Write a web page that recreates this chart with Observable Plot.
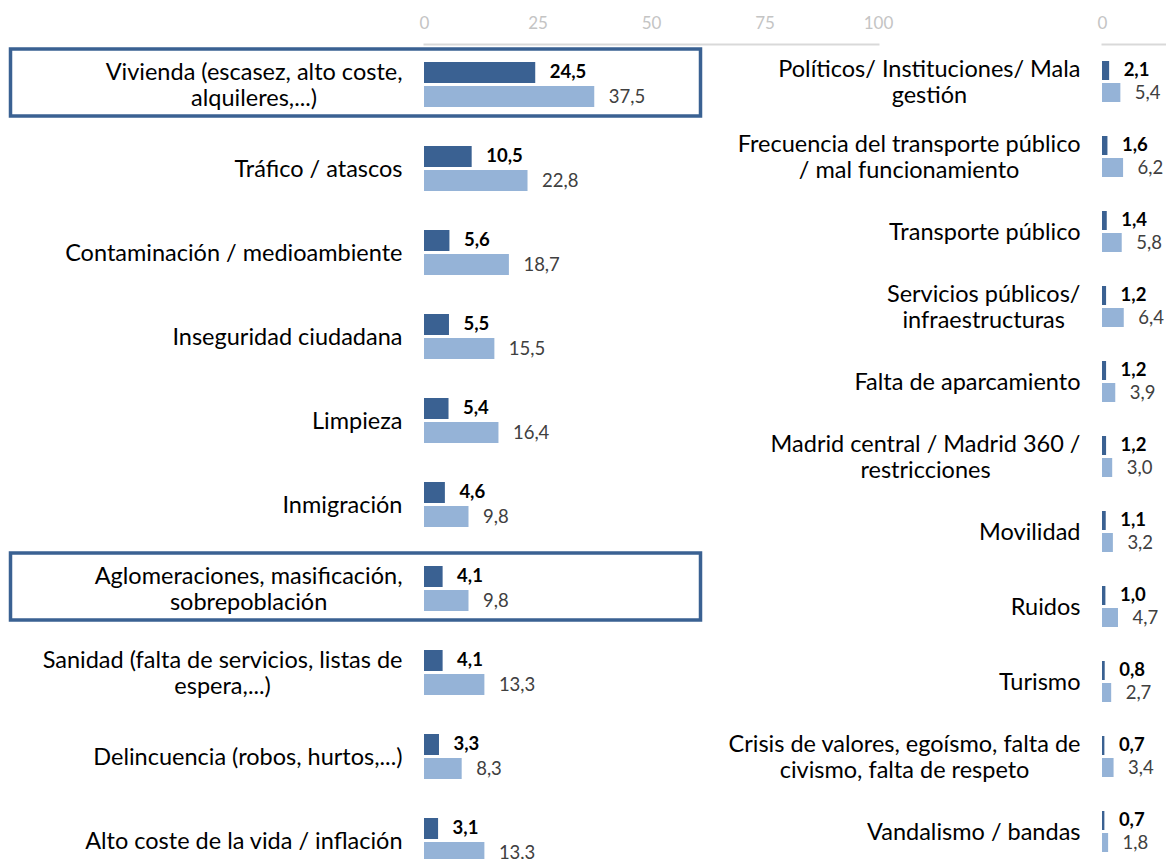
<!DOCTYPE html>
<html>
<head>
<meta charset="utf-8">
<script src="https://cdn.jsdelivr.net/npm/d3@7"></script>
<script src="https://cdn.jsdelivr.net/npm/@observablehq/plot@0.6"></script>
<style>
  body { margin: 0; background: #fff; }
  #wrap { position: relative; width: 1166px; height: 859px; overflow: hidden; background: #fff; font-family: Lato, sans-serif; }
  #left, #right { position: absolute; top: 0; }
  #left { left: 0; }
  #right { left: 700px; }
  svg { max-width: none !important; }
</style>
</head>
<body>
<div id="wrap"><div id="left"></div><div id="right"></div></div>
<script>
// ---------- data ----------
const leftCategories = [
  "Vivienda (escasez, alto coste,\nalquileres,...)",
  "Tráfico / atascos",
  "Contaminación / medioambiente",
  "Inseguridad ciudadana",
  "Limpieza",
  "Inmigración",
  "Aglomeraciones, masificación,\nsobrepoblación",
  "Sanidad (falta de servicios, listas de\nespera,...)",
  "Delincuencia (robos, hurtos,...)",
  "Alto coste de la vida / inflación"
];
const leftSeriesA = [24.5, 10.5, 5.6, 5.5, 5.4, 4.6, 4.1, 4.1, 3.3, 3.1];
const leftSeriesB = [37.5, 22.8, 18.7, 15.5, 16.4, 9.8, 9.8, 13.3, 8.3, 13.3];
const leftHighlighted = [
  "Vivienda (escasez, alto coste,\nalquileres,...)",
  "Aglomeraciones, masificación,\nsobrepoblación"
];
const leftTicks = [0, 25, 50, 75, 100];

const rightCategories = [
  "Políticos/ Instituciones/ Mala\ngestión",
  "Frecuencia del transporte público\n/ mal funcionamiento",
  "Transporte público",
  "Servicios públicos/\ninfraestructuras",
  "Falta de aparcamiento",
  "Madrid central / Madrid 360 /\nrestricciones",
  "Movilidad",
  "Ruidos",
  "Turismo",
  "Crisis de valores, egoísmo, falta de\ncivismo, falta de respeto",
  "Vandalismo / bandas"
];
const rightSeriesA = [2.1, 1.6, 1.4, 1.2, 1.2, 1.2, 1.1, 1.0, 0.8, 0.7, 0.7];
const rightSeriesB = [5.4, 6.2, 5.8, 6.4, 3.9, 3.0, 3.2, 4.7, 2.7, 3.4, 1.8];
const rightTicks = [0];

// ---------- styles ----------
const DARK = "#3a6192";
const LIGHT = "#95b3d7";
const fmt = v => v.toFixed(1).replace(".", ",");

function panel({cats, a, b, ticks, width, marginLeft, marginRight, range, paddingInner, inset, highlight}) {
  const data = cats.map((c, i) => ({cat: c, a: a[i], b: b[i]}));
  const half = inset / 2;
  const marks = [
    Plot.frame({anchor: "top", stroke: "#d9d9d9", strokeWidth: 2}),
    Plot.axisX({anchor: "top", ticks, tickSize: 0, tickPadding: 16, fontSize: 17, color: "#c4c4c4", label: null}),
    Plot.axisY({tickSize: 0, tickPadding: 22, fontSize: 23.5, lineHeight: 1.1, color: "#000", label: null}),
    Plot.barX(data, {y: "cat", x: "a", fill: DARK, insetBottom: inset}),
    Plot.barX(data, {y: "cat", x: "b", fill: LIGHT, insetTop: inset}),
    Plot.text(data, {y: "cat", x: "a", text: d => fmt(d.a), dx: 14, dy: -half - 0.5, textAnchor: "start", fontWeight: "bold", fontSize: 18.5, fill: "#000"}),
    Plot.text(data, {y: "cat", x: "b", text: d => fmt(d.b), dx: 14, dy: half + 0.5, textAnchor: "start", fontSize: 18.5, fill: "#404040"})
  ];
  if (highlight) {
    marks.push(Plot.barX(highlight, {y: d => d, x1: 0, x2: 0, insetLeft: -413.5, insetRight: -276.5, insetTop: -13, insetBottom: -9, fill: "none", stroke: DARK, strokeWidth: 3.5}));
  }
  return Plot.plot({
    width, height: 884,
    marginTop: 44, marginBottom: 0, marginLeft, marginRight,
    style: {background: "transparent", fontFamily: "Lato, sans-serif", fontSize: "20px", overflow: "visible"},
    x: {domain: [0, 100], axis: null},
    y: {domain: cats, range, paddingInner, paddingOuter: paddingInner / 2, axis: null},
    marks
  });
}

function centerMultiline(svg) {
  svg.querySelectorAll('g[aria-label="y-axis tick label"] text').forEach(t => {
    const spans = t.querySelectorAll("tspan");
    if (spans.length < 2) return;
    let w = 0;
    spans.forEach(s => { w = Math.max(w, s.getComputedTextLength()); });
    t.setAttribute("text-anchor", "middle");
    spans.forEach(s => {
      const x0 = +(s.getAttribute("x") || 0);
      s.setAttribute("x", x0 - w / 2);
    });
  });
}

const leftSvg = panel({
  cats: leftCategories, a: leftSeriesA, b: leftSeriesB, ticks: leftTicks,
  width: 900, marginLeft: 424, marginRight: 22,
  range: [43, 883], paddingInner: 39 / 84, inset: 24,
  highlight: leftHighlighted
});
const rightSvg = panel({
  cats: rightCategories, a: rightSeriesA, b: rightSeriesB, ticks: rightTicks,
  width: 800, marginLeft: 402, marginRight: 58,
  range: [44, 869], paddingInner: 34 / 75, inset: 22
});
document.getElementById("left").appendChild(leftSvg);
document.getElementById("right").appendChild(rightSvg);
centerMultiline(leftSvg);
centerMultiline(rightSvg);
</script>
</body>
</html>
